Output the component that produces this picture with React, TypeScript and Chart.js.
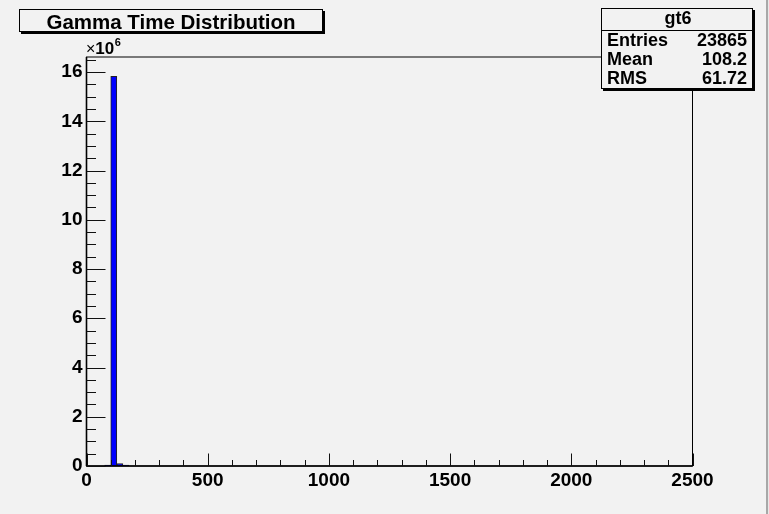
import React, { useEffect, useRef } from "react";
import { Chart, registerables } from "chart.js";

Chart.register(...registerables);

// ---- data ----
const binCenters = [87.5, 112.5, 137.5, 162.5];
const binCounts = [40000, 15820000, 100000, 40000];
const xMin = 0;
const xMax = 2500;
const xTickValues = [0, 500, 1000, 1500, 2000, 2500];
const xMajorStep = 500;
const xMinorStep = 100;
const yMax = 16610000;
const yTickValues = [0, 2000000, 4000000, 6000000, 8000000, 10000000, 12000000, 14000000, 16000000];
const yMajorStep = 2000000;
const yMinorStep = 500000;
const yScaleFactor = 1000000;
const yExponent = "6";
const chartTitle = "Gamma Time Distribution";
const statsName = "gt6";
const statsLabels = ["Entries", "Mean", "RMS"];
const statsValues = ["23865", "108.2", "61.72"];

const FONT = "'Liberation Sans', Arial, Helvetica, sans-serif";
const BG = "#f2f2f2";

const rootPlugin = {
  id: "rootDecor",
  beforeDraw(chart: any) {
    const { ctx, width, height } = chart;
    ctx.save();
    ctx.fillStyle = BG;
    ctx.fillRect(0, 0, width, height);
    ctx.fillStyle = "#a8a8a8";
    ctx.fillRect(766, 0, 2, height);
    ctx.fillStyle = "#e8e8e8";
    ctx.fillRect(768, 0, 1, height);
    ctx.restore();
  },
  afterDraw(chart: any) {
    const { ctx, chartArea } = chart;
    const xs = chart.scales.x;
    const ys = chart.scales.y;
    const L = chartArea.left, R = chartArea.right, T = chartArea.top, B = chartArea.bottom;
    ctx.save();
    // frame
    ctx.strokeStyle = "#000";
    ctx.lineWidth = 1;
    ctx.strokeRect(L, T, R - L, B - T);
    // axis lines
    ctx.lineWidth = 1.6;
    ctx.beginPath();
    ctx.moveTo(L, B);
    ctx.lineTo(R, B);
    ctx.moveTo(L, B);
    ctx.lineTo(L, T);
    ctx.stroke();
    // x ticks
    ctx.lineWidth = 1;
    ctx.strokeStyle = "#111";
    ctx.beginPath();
    for (let v = xMin; v <= xMax + 1e-9; v += xMinorStep) {
      const px = Math.round(xs.getPixelForValue(v)) + 0.5;
      const major = Math.abs(v / xMajorStep - Math.round(v / xMajorStep)) < 1e-9;
      const len = major ? 12.5 : 6;
      ctx.moveTo(px, B);
      ctx.lineTo(px, B - len);
    }
    // y ticks
    for (let v = 0; v <= yMax + 1e-3; v += yMinorStep) {
      const py = Math.round(ys.getPixelForValue(v)) + 0.5;
      const major = Math.abs(v / yMajorStep - Math.round(v / yMajorStep)) < 1e-9;
      const len = major ? 19 : 9.5;
      ctx.moveTo(L, py);
      ctx.lineTo(L + len, py);
    }
    ctx.stroke();

    // exponent label
    ctx.fillStyle = "#000";
    ctx.textBaseline = "alphabetic";
    ctx.textAlign = "left";
    ctx.font = `16px ${FONT}`;
    ctx.fillText("\u00d7", 86, 53.5);
    const w1 = ctx.measureText("\u00d7").width;
    ctx.font = `bold 17px ${FONT}`;
    ctx.fillText("10", 86 + w1, 53.5);
    const w2 = ctx.measureText("10").width;
    ctx.font = `bold 11px ${FONT}`;
    ctx.fillText(yExponent, 86 + w1 + w2 + 0.5, 46);

    // title box
    const tb = { x: 19, y: 9, w: 304, h: 23 };
    ctx.fillStyle = "#000";
    ctx.fillRect(tb.x + 2, tb.y + 2, tb.w, tb.h);
    ctx.fillStyle = BG;
    ctx.fillRect(tb.x, tb.y, tb.w, tb.h);
    ctx.strokeStyle = "#000";
    ctx.lineWidth = 1;
    ctx.strokeRect(tb.x + 0.5, tb.y + 0.5, tb.w - 1, tb.h - 1);
    ctx.fillStyle = "#000";
    ctx.font = `bold 20.5px ${FONT}`;
    ctx.textAlign = "center";
    ctx.fillText(chartTitle, tb.x + tb.w / 2, 28.5);

    // stats box
    const sb = { x: 601, y: 8, w: 152, h: 81 };
    ctx.fillStyle = "#000";
    ctx.fillRect(sb.x + 2, sb.y + 2, sb.w, sb.h);
    ctx.fillStyle = BG;
    ctx.fillRect(sb.x, sb.y, sb.w, sb.h);
    ctx.strokeRect(sb.x + 0.5, sb.y + 0.5, sb.w - 1, sb.h - 1);
    ctx.beginPath();
    ctx.moveTo(sb.x, 30.5);
    ctx.lineTo(sb.x + sb.w, 30.5);
    ctx.stroke();
    ctx.fillStyle = "#000";
    ctx.font = `bold 18px ${FONT}`;
    ctx.textAlign = "center";
    ctx.fillText(statsName, sb.x + sb.w / 2 + 1, 24);
    const baselines = [45.5, 65, 84];
    for (let i = 0; i < statsLabels.length; i++) {
      ctx.textAlign = "left";
      ctx.fillText(statsLabels[i], 607, baselines[i]);
      ctx.textAlign = "right";
      ctx.fillText(statsValues[i], 747, baselines[i]);
    }
    ctx.restore();
  },
};

export default function App() {
  const ref = useRef<HTMLCanvasElement | null>(null);
  useEffect(() => {
    document.body.style.margin = "0";
    const canvas = ref.current!;
    const chart = new Chart(canvas, {
      type: "bar",
      data: {
        datasets: [
          {
            label: statsName,
            data: binCenters.map((x, i) => ({ x, y: binCounts[i] })),
            backgroundColor: "#0000ff",
            borderColor: "#222",
            borderWidth: 1,
            barPercentage: 1,
            categoryPercentage: 1,
          },
        ],
      },
      options: {
        responsive: false,
        animation: false,
        devicePixelRatio: 1,
        layout: { padding: { top: 57, right: 76.5, bottom: 0, left: 0 } },
        plugins: { legend: { display: false }, tooltip: { enabled: false }, title: { display: false } },
        scales: {
          x: {
            type: "linear",
            min: xMin,
            max: xMax,
            offset: false,
            grid: { display: false, drawTicks: false },
            border: { display: false },
            afterBuildTicks: (s: any) => {
              s.ticks = xTickValues.map((v) => ({ value: v }));
            },
            ticks: {
              autoSkip: false,
              maxRotation: 0,
              padding: 3,
              color: "#000",
              font: { family: FONT, weight: "bold", size: 19 },
              callback: (v: any) => String(v),
            },
            afterFit: (s: any) => {
              s.height = 48;
            },
          },
          y: {
            type: "linear",
            min: 0,
            max: yMax,
            grid: { display: false, drawTicks: false },
            border: { display: false },
            afterBuildTicks: (s: any) => {
              s.ticks = yTickValues.map((v) => ({ value: v }));
            },
            ticks: {
              autoSkip: false,
              padding: 4,
              color: "#000",
              font: { family: FONT, weight: "bold", size: 19 },
              callback: (v: any) => String(Math.round(v / yScaleFactor)),
            },
            afterFit: (s: any) => {
              s.width = 86.5;
            },
          },
        },
      } as any,
      plugins: [rootPlugin],
    });
    return () => chart.destroy();
  }, []);
  return (
    <div style={{ position: "absolute", left: 0, top: 0, width: 769, height: 514 }}>
      <canvas ref={ref} width={769} height={514} style={{ display: "block" }} />
    </div>
  );
}
